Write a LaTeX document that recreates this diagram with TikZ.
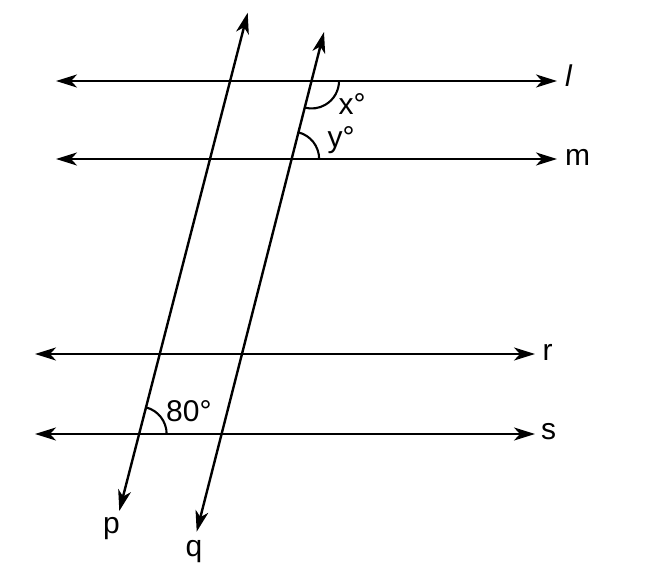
\documentclass[tikz,border=0pt]{standalone}
\usepackage{fontspec}
\setmainfont{Liberation Sans}
\usetikzlibrary{calc}
\usetikzlibrary{arrows.meta}
\usetikzlibrary{intersections}

\begin{document}
\begin{tikzpicture}[
x=1pt,y=1pt,
>={Stealth[length=21pt, width=13pt, inset=6pt]},
MyLines/.style={<->,line width=2.4pt},
MyArcs/.style={line width=2.1pt},
every node/.style={font=\fontsize{30}{36}\selectfont, inner sep=0pt, anchor=base west}
]
\useasboundingbox (0,0) rectangle (667,573);

% horizontal lines
\coordinate (L1) at (56,492);
\coordinate (L2) at (557,492);
\coordinate (M1) at (56,414);
\coordinate (M2) at (557,414);
\coordinate (R1) at (35,219);
\coordinate (R2) at (535,219);
\coordinate (S1) at (35,139);
\coordinate (S2) at (535,139);

% transversals
\coordinate (P1) at (247.7,560.3);
\coordinate (P2) at (119.3,62);
\coordinate (Q1) at (324,541);
\coordinate (Q2) at (196.7,41.3);

\draw[MyLines, name path=l] (L1)--(L2);
\draw[MyLines, name path=m] (M1)--(M2);
\draw[MyLines, name path=r] (R1)--(R2);
\draw[MyLines, name path=s] (S1)--(S2);

\draw[MyLines, name path=p] (P1)--(P2);
\draw[MyLines, name path=q] (Q1)--(Q2);

\path[name intersections={of=q and l, by=X}];
\path[name intersections={of=q and m, by=Y}];
\path[name intersections={of=p and s, by=Z}];

\draw[MyArcs] ($(X)+(27.5,0)$) arc[start angle=0, end angle=-104.3, radius=27.5];
\draw[MyArcs] ($(Y)+(27.5,0)$) arc[start angle=0, end angle=75.7, radius=27.5];
\draw[MyArcs] ($(Z)+(27.5,0)$) arc[start angle=0, end angle=75.5, radius=27.5];

\node (labl) at (565,486) {\textit{l}};
\node (labm) at (565,407.3) {m};
\node (labr) at (542.5,212.3) {r};
\node (labs) at (541,133) {s};
\node (labp) at (103,39.5) {p};
\node (labq) at (185.5,16.6) {q};

\node (angx) at (338.5,458) {x°};
\node (angy) at (327.5,425) {y°};
\node (ang80) at (166,151.3) {80°};

\end{tikzpicture}
\end{document}
